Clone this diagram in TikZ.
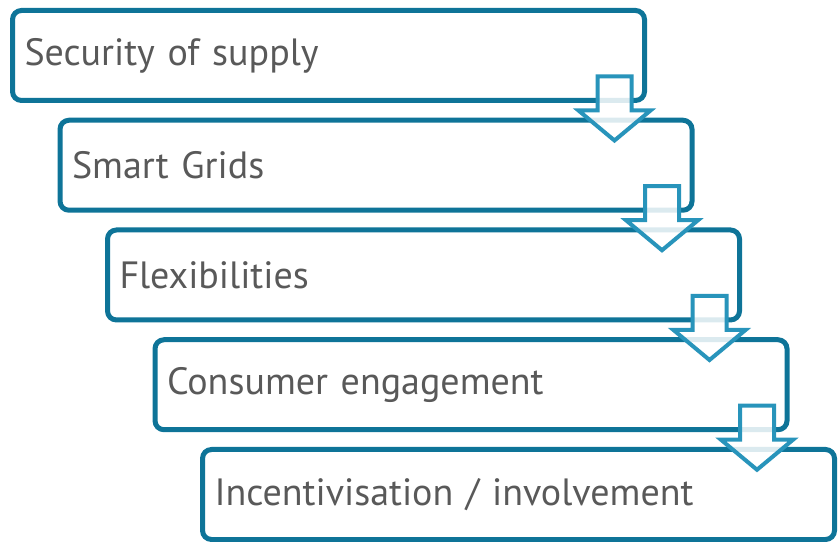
\documentclass[tikz,border=0pt]{standalone}
\usepackage{fontspec}
\setmainfont{PT Sans}
\usetikzlibrary{calc}
\definecolor{boxblue}{RGB}{14,116,152}
\definecolor{arrowblue}{RGB}{40,148,187}
\definecolor{textgray}{RGB}{89,89,89}
\tikzset{
  stepbox/.style={draw=boxblue, line width=5pt, rounded corners=9pt, fill=white,
    minimum width=632pt, minimum height=90pt, text width=608pt, inner xsep=12pt,
    outer sep=0pt, align=left, text=textgray, font=\fontsize{38}{44}\selectfont},
  downarrow/.pic={
    \draw[arrowblue, line width=4pt, fill=white, fill opacity=0.85]
      (0,0) -- (36,30) -- (17,30) -- (17,64) -- (-17,64) -- (-17,30) -- (-36,30) -- cycle;
  }
}
\begin{document}
\begin{tikzpicture}[x=1pt,y=1pt]
        \useasboundingbox (0,0) rectangle (838,541);

        % steps
        \node[stepbox] (supply) at (328.5,485.5) {Security of supply};
        \node[stepbox] (grids) at ($(supply)+(47.5,-109.75)$) {Smart Grids};
        \node[stepbox] (flex) at ($(grids)+(47.5,-109.75)$) {Flexibilities};
        \node[stepbox] (consumer) at ($(flex)+(47.5,-109.75)$) {Consumer engagement};
        \node[stepbox] (incent) at ($(consumer)+(47.5,-109.75)$) {Incentivisation / involvement};

        % arrows between the steps
        \foreach \from in {supply,grids,flex,consumer}
          \pic at ($(\from.south east)+(-30,-40)$) {downarrow};
\end{tikzpicture}
\end{document}
